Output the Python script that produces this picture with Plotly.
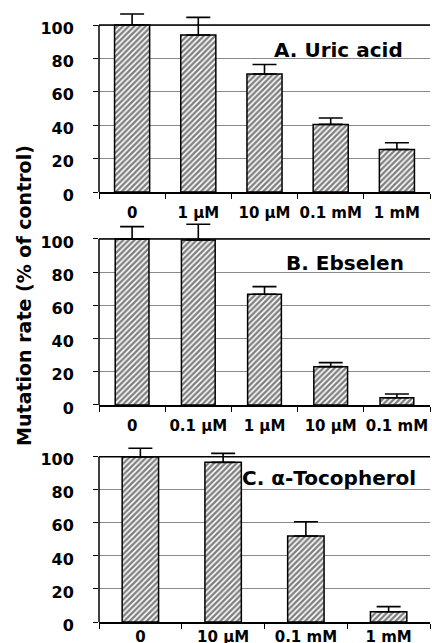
import plotly.graph_objects as go
from plotly.subplots import make_subplots

# ---- data ----
cats_a = ["0", "1 µM", "10 µM", "0.1 mM", "1 mM"]
vals_a = [100, 94, 70.7, 40.5, 25.5]
err_a = [6.6, 10.6, 5.7, 3.8, 4.0]

cats_b = ["0", "0.1 µM", "1 µM", "10 µM", "0.1 mM"]
vals_b = [100, 99.4, 66.7, 23.1, 4.4]
err_b = [7.4, 9.4, 4.6, 2.4, 2.2]

cats_c = ["0", "10 µM", "0.1 mM", "1 mM"]
vals_c = [100, 96.6, 52.0, 6.2]
err_c = [5.1, 5.4, 8.7, 3.1]

y_ticks = [0, 20, 40, 60, 80, 100]
panel_labels = ["A. Uric acid", "B. Ebselen", "C. α-Tocopherol"]
y_title = "Mutation rate (% of control)"

FONT = "DejaVu Sans"
YMAX = 100
YTOP = 112

fig = make_subplots(rows=3, cols=1)

panels = [
    (cats_a, vals_a, err_a, 0.53),
    (cats_b, vals_b, err_b, 0.51),
    (cats_c, vals_c, err_c, 0.44),
]
for i, (cats, vals, errs, w) in enumerate(panels):
    fig.add_trace(
        go.Bar(
            x=cats, y=vals, width=w,
            marker=dict(
                color="white",
                line=dict(color="black", width=1.5),
                pattern=dict(shape="/", fgcolor="black", bgcolor="white",
                             size=4, solidity=0.6),
            ),
            error_y=dict(type="data", symmetric=False, array=errs,
                         arrayminus=[0] * len(errs), color="black",
                         thickness=1.6, width=12),
            cliponaxis=False,
            showlegend=False,
            hoverinfo="skip",
        ),
        row=i + 1, col=1,
    )

domains = [[0.6913, 0.992], [0.3489, 0.6479], [0.0, 0.2976]]
x_standoff = [6, 6, 0]
for i in range(3):
    sfx = "" if i == 0 else str(i + 1)
    fig.layout["xaxis" + sfx].update(
        domain=[0, 1], type="category", showline=True, linecolor="black",
        linewidth=1.5, ticks="outside", tickson="boundaries",
        ticklen=5, tickcolor="black", showgrid=False, tickangle=0,
        automargin=False,
        tickfont=dict(family=FONT, size=15, color="black", weight="bold"),
        ticklabelstandoff=x_standoff[i],
    )
    fig.layout["yaxis" + sfx].update(
        domain=domains[i], range=[0, YTOP], tickvals=y_ticks,
        showline=False, automargin=False,
        ticks="outside", ticklen=5, tickcolor="black",
        showgrid=True, gridcolor="#8a8a8a", gridwidth=1,
        zeroline=False,
        tickfont=dict(family=FONT, size=16, color="black", weight="bold"),
        ticklabelstandoff=16, ticklabelshift=3,
    )
    xr = "x" + sfx + " domain"
    yr = "y" + sfx
    # left frame line and top frame line (at 100)
    fig.add_shape(type="line", xref=xr, yref=yr, x0=0, x1=0, y0=0, y1=YMAX,
                  line=dict(color="black", width=1.5))
    fig.add_shape(type="line", xref=xr, yref=yr, x0=0, x1=1, y0=YMAX, y1=YMAX,
                  line=dict(color="black", width=1.5))

label_pos = [(0.924, 85.3, 20), (0.927, 85.8, 20), (0.964, 87.1, 20)]
for i, (lx, ly, fs) in enumerate(label_pos):
    sfx = "" if i == 0 else str(i + 1)
    fig.add_annotation(
        x=lx, y=ly, xref="x" + sfx + " domain", yref="y" + sfx,
        text=panel_labels[i], showarrow=False, xanchor="right", yanchor="middle",
        font=dict(family=FONT, size=fs, color="black", weight="bold"),
    )

fig.add_annotation(
    x=-0.227, y=0.5257, xref="paper", yref="paper", text=y_title,
    showarrow=False, textangle=-90, xanchor="center", yanchor="middle",
    font=dict(family=FONT, size=19, color="black", weight="bold"),
)

fig.update_layout(
    width=432, height=643,
    margin=dict(l=99, r=2, t=0, b=21, autoexpand=False),
    paper_bgcolor="white", plot_bgcolor="white",
)

fig.write_html(
    "out.html",
    config={"displayModeBar": False},
    post_script="document.body.style.margin='0';document.body.style.overflow='hidden';",
)
